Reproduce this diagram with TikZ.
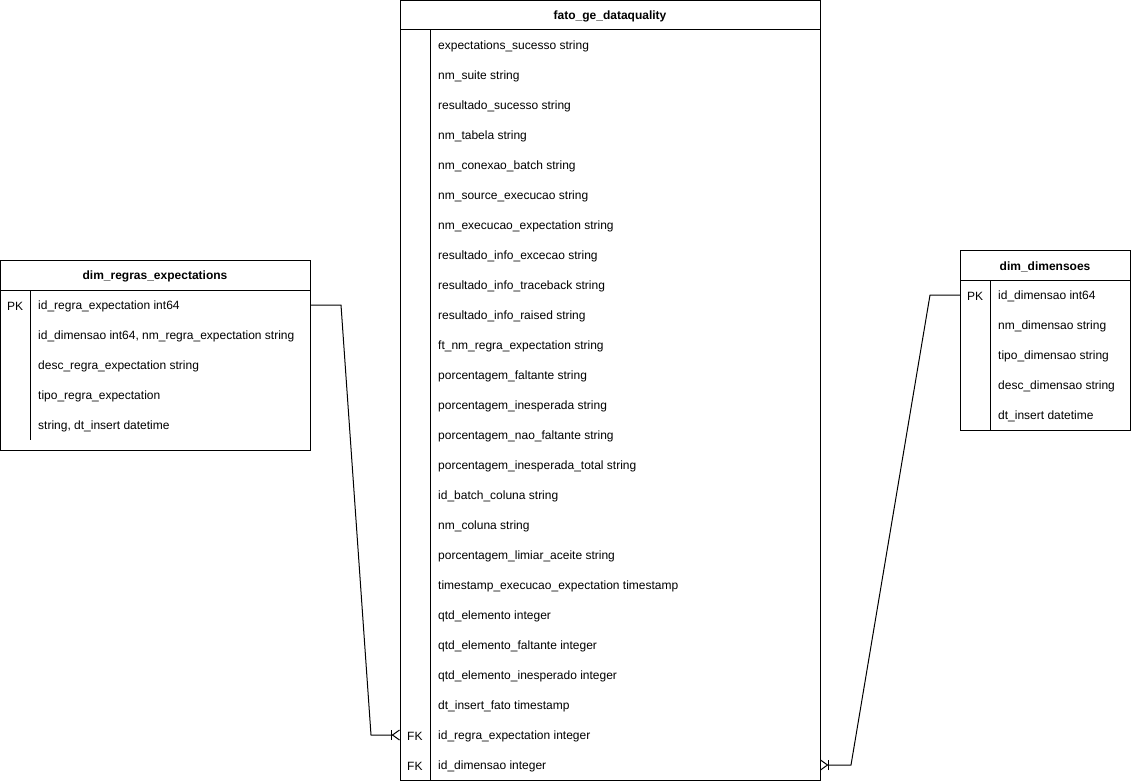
\documentclass[tikz,border=0pt]{standalone}
\usepackage{fontspec}
\setmainfont{Liberation Sans}
\usepackage{tikz}
\usetikzlibrary{arrows.meta}
\tikzstyle{Table}=[draw=black,line width=1pt,inner sep=0pt,anchor=north west]
\tikzstyle{Title}=[font=\fontsize{12}{14}\selectfont\bfseries,inner sep=0pt,yshift=-1.5pt]
\tikzstyle{Field}=[anchor=west,inner sep=0pt,font=\fontsize{12}{14}\selectfont,yshift=-1.5pt]
\tikzstyle{Key}=[anchor=west,inner sep=0pt,font=\fontsize{12}{14}\selectfont,yshift=-1.5pt]
\tikzstyle{Rule}=[draw=black,line width=1pt]
\tikzstyle{Rel}=[draw=black,line width=1pt,
-{Bar[width=10pt,line width=1pt]Straight Barb[reversed,length=7pt,width=10pt,line width=1pt]}]

\begin{document}
\begin{tikzpicture}[x=1pt,y=-1pt]
        \useasboundingbox(0,0)rectangle(1131,781);
        % fact table
        \node[Table,minimum width=420pt,minimum height=780pt](fato)at(400,0){};
        \node[Title](fatot)at(610,15){fato\_ge\_dataquality};
        \draw[Rule](400,30)--(820,30);
        \draw[Rule](430,30)--(430,780);
        \node[Field](f1)at(438,45){expectations\_sucesso string};
        \node[Field](f2)at(438,75){nm\_suite string};
        \node[Field](f3)at(438,105){resultado\_sucesso string};
        \node[Field](f4)at(438,135){nm\_tabela string};
        \node[Field](f5)at(438,165){nm\_conexao\_batch string};
        \node[Field](f6)at(438,195){nm\_source\_execucao string};
        \node[Field](f7)at(438,225){nm\_execucao\_expectation string};
        \node[Field](f8)at(438,255){resultado\_info\_excecao string};
        \node[Field](f9)at(438,285){resultado\_info\_traceback string};
        \node[Field](f10)at(438,315){resultado\_info\_raised string};
        \node[Field](f11)at(438,345){ft\_nm\_regra\_expectation string};
        \node[Field](f12)at(438,375){porcentagem\_faltante string};
        \node[Field](f13)at(438,405){porcentagem\_inesperada string};
        \node[Field](f14)at(438,435){porcentagem\_nao\_faltante string};
        \node[Field](f15)at(438,465){porcentagem\_inesperada\_total string};
        \node[Field](f16)at(438,495){id\_batch\_coluna string};
        \node[Field](f17)at(438,525){nm\_coluna string};
        \node[Field](f18)at(438,555){porcentagem\_limiar\_aceite string};
        \node[Field](f19)at(438,585){timestamp\_execucao\_expectation timestamp};
        \node[Field](f20)at(438,615){qtd\_elemento integer};
        \node[Field](f21)at(438,645){qtd\_elemento\_faltante integer};
        \node[Field](f22)at(438,675){qtd\_elemento\_inesperado integer};
        \node[Field](f23)at(438,705){dt\_insert\_fato timestamp};
        \node[Field](f24)at(438,735){id\_regra\_expectation integer};
        \node[Field](f25)at(438,765){id\_dimensao integer};
        \node[Key](k24)at(407,735){FK};
        \node[Key](k25)at(407,765){FK};
        % rules table
        \node[Table,minimum width=310pt,minimum height=190pt](regras)at(0,260){};
        \node[Title](regrast)at(155,275){dim\_regras\_expectations};
        \draw[Rule](0,290)--(310,290);
        \draw[Rule](30,290)--(30,440);
        \node[Key](rk1)at(7,305){PK};
        \node[Field](r1)at(38,305){id\_regra\_expectation int64};
        \node[Field](r2)at(38,335){id\_dimensao int64, nm\_regra\_expectation string};
        \node[Field](r3)at(38,365){desc\_regra\_expectation string};
        \node[Field](r4)at(38,395){tipo\_regra\_expectation};
        \node[Field](r5)at(38,425){string, dt\_insert datetime};
        % dimensions table
        \node[Table,minimum width=170pt,minimum height=180pt](dimensoes)at(960,250){};
        \node[Title](dimensoest)at(1045,265){dim\_dimensoes};
        \draw[Rule](960,280)--(1130,280);
        \draw[Rule](990,280)--(990,430);
        \node[Key](dk1)at(967,295){PK};
        \node[Field](d1)at(998,295){id\_dimensao int64};
        \node[Field](d2)at(998,325){nm\_dimensao string};
        \node[Field](d3)at(998,355){tipo\_dimensao string};
        \node[Field](d4)at(998,385){desc\_dimensao string};
        \node[Field](d5)at(998,415){dt\_insert datetime};
        % relations
        \coordinate(r1e)at(310,305);
        \coordinate(b1)at(341,305);
        \coordinate(b2)at(371,735);
        \coordinate(f24w)at(400,735);
        \draw[Rel](r1e)--(b1)--(b2)--(f24w);
        \coordinate(d1w)at(960,295);
        \coordinate(c1)at(930,295);
        \coordinate(c2)at(851,765);
        \coordinate(f25e)at(820,765);
        \draw[Rel](d1w)--(c1)--(c2)--(f25e);
\end{tikzpicture}
\end{document}
